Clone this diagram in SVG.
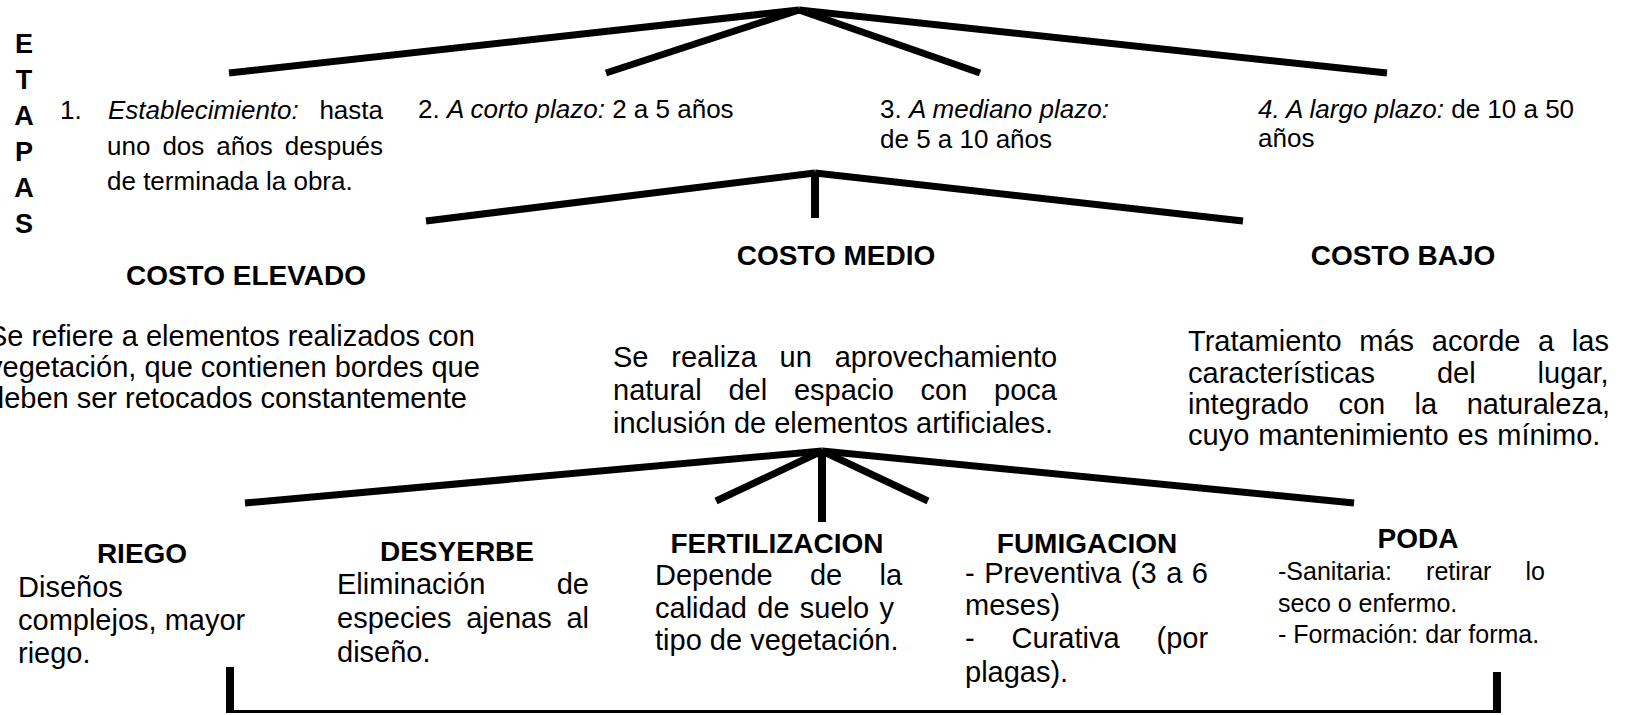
<svg xmlns="http://www.w3.org/2000/svg" width="1628" height="715" viewBox="0 0 1628 715">
<style>
text{font-family:"Liberation Sans",Arial,sans-serif;fill:#000}
.t{font-size:26px}
.b{font-size:29px}
.p{font-size:25px}
.h{font-size:28px;font-weight:bold;text-anchor:middle}
.e{font-size:27px;font-weight:bold;text-anchor:middle}
.i{font-style:italic}
.ln{stroke:#000;stroke-width:7;fill:none;stroke-linecap:butt}
.vt{stroke:#000;stroke-width:8;fill:none}
.br{stroke:#000;stroke-width:3;fill:none}
</style>
<rect width="1628" height="715" fill="#fff"/>
<g id="connectors">
<line class="ln" x1="799" y1="10" x2="229" y2="73"/>
<line class="ln" x1="799" y1="10" x2="606" y2="73"/>
<line class="ln" x1="799" y1="10" x2="980" y2="73"/>
<line class="ln" x1="799" y1="10" x2="1387" y2="73"/>
<line class="ln" x1="815" y1="173" x2="426" y2="221"/>
<line class="ln" x1="815" y1="173" x2="1243" y2="221"/>
<line class="vt" x1="815" y1="173" x2="815" y2="218"/>
<line class="ln" x1="822" y1="451" x2="245" y2="503"/>
<line class="ln" x1="822" y1="451" x2="716" y2="501"/>
<line class="ln" x1="822" y1="451" x2="928" y2="501"/>
<line class="ln" x1="822" y1="451" x2="1354" y2="503"/>
<line class="vt" x1="822" y1="451" x2="822" y2="522"/>
<line class="vt" x1="230" y1="667" x2="230" y2="713"/>
<line class="vt" x1="1497" y1="672" x2="1497" y2="713"/>
<line class="br" x1="230" y1="711.5" x2="1497" y2="711.5"/>
</g>
<g id="etapas">
<text class="e" x="24" y="53">E</text>
<text class="e" x="24" y="89">T</text>
<text class="e" x="24" y="125">A</text>
<text class="e" x="24" y="161">P</text>
<text class="e" x="24" y="197">A</text>
<text class="e" x="24" y="233">S</text>
</g>
<g id="etapa-1">
<text class="t" x="60" y="119">1.</text>
<text class="t i" x="108" y="119">Establecimiento:</text>
<text class="t" x="383" y="119" text-anchor="end">hasta</text>
<text class="t" x="107" y="155" word-spacing="4.8">uno dos años después</text>
<text class="t" x="107" y="190">de terminada la obra.</text>
</g>
<g id="etapa-2">
<text class="t" x="418" y="118">2. <tspan class="i">A corto plazo:</tspan> 2 a 5 años</text>
</g>
<g id="etapa-3">
<text class="t" x="880" y="118">3. <tspan class="i">A mediano plazo:</tspan></text>
<text class="t" x="880" y="148">de 5 a 10 años</text>
</g>
<g id="etapa-4">
<text class="t" x="1258" y="118"><tspan class="i">4. A largo plazo:</tspan> de 10 a 50</text>
<text class="t" x="1258" y="147">años</text>
</g>
<g id="costo-elevado">
<text class="h" x="246" y="285">COSTO ELEVADO</text>
<text class="b" x="-12" y="346">Se refiere a elementos realizados con</text>
<text class="b" x="-12" y="377">vegetación, que contienen bordes que</text>
<text class="b" x="-12" y="408">deben ser retocados constantemente</text>
</g>
<g id="costo-medio">
<text class="h" x="836" y="265">COSTO MEDIO</text>
<text class="b" x="613" y="367" word-spacing="14.8">Se realiza un aprovechamiento</text>
<text class="b" x="613" y="400" word-spacing="18.7">natural del espacio con poca</text>
<text class="b" x="613" y="433">inclusión de elementos artificiales.</text>
</g>
<g id="costo-bajo">
<text class="h" x="1403" y="265">COSTO BAJO</text>
<text class="b" x="1188" y="351" word-spacing="9.6">Tratamiento más acorde a las</text>
<text class="b" x="1188" y="383" word-spacing="53.9">características del lugar,</text>
<text class="b" x="1188" y="414" word-spacing="21.4">integrado con la naturaleza,</text>
<text class="b" x="1188" y="445" word-spacing="1">cuyo mantenimiento es mínimo.</text>
</g>
<g id="riego">
<text class="h" x="142" y="563">RIEGO</text>
<text class="b" x="18" y="597">Diseños</text>
<text class="b" x="18" y="630">complejos, mayor</text>
<text class="b" x="18" y="663">riego.</text>
</g>
<g id="desyerbe">
<text class="h" x="457" y="561">DESYERBE</text>
<text class="b" x="337" y="594" word-spacing="63.4">Eliminación de</text>
<text class="b" x="337" y="628" word-spacing="6.7">especies ajenas al</text>
<text class="b" x="337" y="662">diseño.</text>
</g>
<g id="fertilizacion">
<text class="h" x="777" y="553">FERTILIZACION</text>
<text class="b" x="655" y="585" word-spacing="29.2">Depende de la</text>
<text class="b" x="655" y="618" word-spacing="2.3">calidad de suelo y</text>
<text class="b" x="655" y="650">tipo de vegetación.</text>
</g>
<g id="fumigacion">
<text class="h" x="1087" y="553">FUMIGACION</text>
<text class="b" x="965" y="583" word-spacing="1.5">- Preventiva (3 a 6</text>
<text class="b" x="965" y="615">meses)</text>
<text class="b" x="965" y="648" word-spacing="28.9">- Curativa (por</text>
<text class="b" x="965" y="682">plagas).</text>
</g>
<g id="poda">
<text class="h" x="1418" y="548">PODA</text>
<text class="p" x="1278" y="580" word-spacing="27.2">-Sanitaria: retirar lo</text>
<text class="p" x="1278" y="612">seco o enfermo.</text>
<text class="p" x="1278" y="643">- Formación: dar forma.</text>
</g>
</svg>
